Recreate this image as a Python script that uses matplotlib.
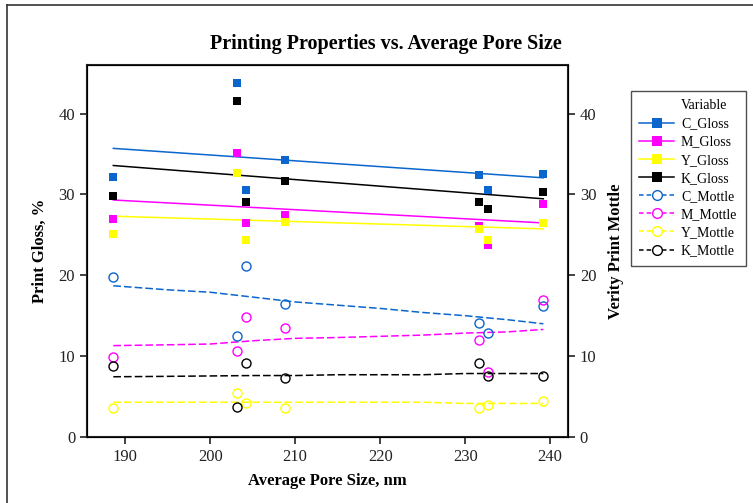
import numpy as np
import matplotlib.pyplot as plt
from matplotlib.lines import Line2D

# average pore size of each sample, nm
pore_size = [188.6, 203.1, 204.2, 208.8, 231.6, 232.7, 239.2]

# print gloss, %
c_gloss = [32.2, 43.8, 30.6, 34.2, 32.4, 30.6, 32.5]
m_gloss = [26.9, 35.1, 26.5, 27.4, 26.1, 23.8, 28.8]
y_gloss = [25.1, 32.7, 24.4, 26.6, 25.7, 24.3, 26.5]
k_gloss = [29.8, 41.5, 29.1, 31.7, 29.1, 28.2, 30.3]

# Verity print mottle
c_mottle = [19.8, 12.5, 21.2, 16.5, 14.1, 12.8, 16.2]
m_mottle = [9.9, 10.6, 14.8, 13.5, 12.0, 8.0, 17.0]
y_mottle = [3.55, 5.5, 4.2, 3.55, 3.55, 4.0, 4.4]
k_mottle = [8.8, 3.7, 9.1, 7.3, 9.1, 7.6, 7.5]

# smoothed mottle trends (lowess)
trend_x = [188.6, 195, 200, 205, 210, 215, 220, 225, 230, 235, 239.2]
c_mottle_trend = [18.7, 18.2, 17.9, 17.3, 16.7, 16.3, 15.9, 15.4, 15.0, 14.5, 14.0]
m_mottle_trend = [11.3, 11.4, 11.5, 11.9, 12.2, 12.3, 12.45, 12.6, 12.85, 13.0, 13.3]
y_mottle_trend = [4.3, 4.3, 4.3, 4.3, 4.3, 4.3, 4.3, 4.3, 4.15, 4.15, 4.15]
k_mottle_trend = [7.45, 7.5, 7.55, 7.6, 7.6, 7.7, 7.7, 7.7, 7.85, 7.85, 7.85]

y_ticks = [0, 10, 20, 30, 40]
x_ticks = [190, 200, 210, 220, 230, 240]

CYAN = "#0A66CC"
MAGENTA = "#FF00FF"
YELLOW = "#FFFF00"
BLACK = "#000000"

gloss_series = [("C_Gloss", c_gloss, CYAN), ("M_Gloss", m_gloss, MAGENTA),
                ("Y_Gloss", y_gloss, YELLOW), ("K_Gloss", k_gloss, BLACK)]
mottle_series = [("C_Mottle", c_mottle, c_mottle_trend, CYAN),
                 ("M_Mottle", m_mottle, m_mottle_trend, MAGENTA),
                 ("Y_Mottle", y_mottle, y_mottle_trend, YELLOW),
                 ("K_Mottle", k_mottle, k_mottle_trend, BLACK)]

plt.rcParams["font.family"] = ["Liberation Serif", "DejaVu Serif"]

fig = plt.figure(figsize=(7.53, 5.03), dpi=100)
ax = fig.add_axes([0.1155, 0.1312, 0.6388, 0.7396])

# gloss: points plus least-squares line
for name, vals, color in gloss_series:
    ax.plot(pore_size, vals, "s", color=color, markersize=5.5, markeredgewidth=0, zorder=3)
    slope, icpt = np.polyfit(pore_size, vals, 1)
    ends = np.array([min(pore_size), max(pore_size)])
    ax.plot(ends, slope * ends + icpt, "-", color=color, lw=1.1, zorder=2)

# mottle: open circles plus dashed smoother
for name, vals, trend, color in mottle_series:
    ax.plot(pore_size, vals, "o", color=color, markerfacecolor="none",
            markersize=6.5, markeredgewidth=1.0, zorder=3)
    ax.plot(trend_x, trend, "--", color=color, lw=1.1, dashes=(5, 2), zorder=2)

ax.set_xlim(185.5, 242.1)
ax.set_ylim(0, 46)
ax.set_xticks(x_ticks)
ax.set_yticks(y_ticks)
ax.tick_params(direction="out", length=5, width=1.2, labelsize=12, colors="#222222")
for sp in ax.spines.values():
    sp.set_linewidth(1.5)
    sp.set_color("#222222")

ax2 = ax.twinx()
ax2.set_ylim(0, 46)
ax2.set_yticks(y_ticks)
ax2.tick_params(direction="out", length=5, width=1.2, labelsize=12, colors="#222222")

ax.set_xlabel("Average Pore Size, nm", fontsize=12, fontweight="bold", labelpad=6)
ax.set_ylabel("Print Gloss, %", fontsize=12, fontweight="bold", labelpad=8)
ax2.set_ylabel("Verity Print Mottle", fontsize=12, fontweight="bold", labelpad=8)

fig.text(0.512, 0.912, "Printing Properties vs. Average Pore Size",
         ha="center", va="center", fontsize=14.5, fontweight="bold")

# "Variable" heading sits in the label column, so it is an empty first row
handles = [Line2D([], [], lw=0, label="Variable")]
for name, vals, color in gloss_series:
    handles.append(Line2D([], [], color=color, marker="s", markersize=7,
                          markeredgewidth=0, lw=1.1, label=name))
for name, vals, trend, color in mottle_series:
    handles.append(Line2D([], [], color=color, marker="o", markerfacecolor="white",
                          markersize=7, markeredgewidth=1.0, ls="--",
                          dashes=(3, 2), lw=1.1, label=name))

leg = fig.legend(handles=handles, loc="upper left",
                 bbox_to_anchor=(631 / 753, 1 - 91 / 503), fontsize=10,
                 frameon=True, fancybox=False, edgecolor="#222222",
                 handlelength=2.5, handletextpad=0.5, labelspacing=0.37,
                 borderpad=0.6, borderaxespad=0, markerfirst=True)
leg.get_frame().set_linewidth(1.0)

# outer frame along the top and left of the chart
frame_kw = dict(color="#333333", lw=1.2, transform=fig.transFigure)
fig.add_artist(Line2D([7 / 753, 7 / 753], [0, 1 - 5 / 503], **frame_kw))
fig.add_artist(Line2D([7 / 753, 1], [1 - 5 / 503, 1 - 5 / 503], **frame_kw))

fig.savefig("out.png", dpi=100)
